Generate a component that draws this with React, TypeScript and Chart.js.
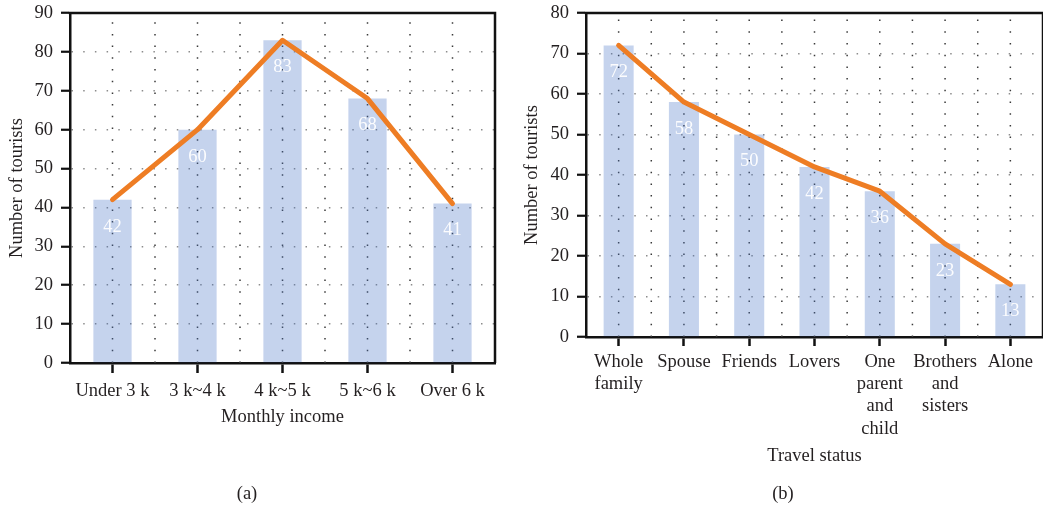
import React, { useEffect, useRef } from "react";
import { Chart, registerables } from "chart.js";

Chart.register(...registerables);

// ---- data ----
const incomeLabels: string[] = ["Under 3 k", "3 k~4 k", "4 k~5 k", "5 k~6 k", "Over 6 k"];
const incomeCounts: number[] = [42, 60, 83, 68, 41];
const incomeYMax = 90;

const travelLabels: string[][] = [
  ["Whole", "family"],
  ["Spouse"],
  ["Friends"],
  ["Lovers"],
  ["One", "parent", "and", "child"],
  ["Brothers", "and", "sisters"],
  ["Alone"],
];
const travelCounts: number[] = [72, 58, 50, 42, 36, 23, 13];
const travelYMax = 80;

const yStep = 10;
const yTitle = "Number of tourists";
const incomeXTitle = "Monthly income";
const travelXTitle = "Travel status";
const captions = ["(a)", "(b)"];

// ---- styles ----
const FONT = "'Liberation Serif', 'Times New Roman', serif";
const FS = 18.5;
const TEXT = "#231f20";
const AXIS = "#111111";
const BAR = "rgba(68,114,196,0.31)";
const LINE = "#ee7d24";

const vGridPlugin = {
  id: "vgrid",
  beforeDatasetsDraw(chart: any) {
    const x = chart.scales.x;
    const { top, bottom, left, right } = chart.chartArea;
    const n = x.ticks.length;
    if (n < 2) return;
    const half = (x.getPixelForValue(1) - x.getPixelForValue(0)) / 2;
    const ctx = chart.ctx;
    ctx.save();
    ctx.strokeStyle = "#3a3a3a";
    ctx.lineWidth = 1.5;
    ctx.setLineDash([1.5, 10.2]);
    const xs: number[] = [];
    for (let i = 0; i < n; i++) {
      const c = x.getPixelForValue(i);
      xs.push(c - half, c);
    }
    xs.push(x.getPixelForValue(n - 1) + half);
    for (const px of xs) {
      if (px <= left + 2 || px >= right - 2) continue;
      ctx.beginPath();
      ctx.moveTo(px, bottom);
      ctx.lineTo(px, top);
      ctx.stroke();
    }
    ctx.restore();
  },
};

const framePlugin = {
  id: "frame",
  afterDatasetsDraw(chart: any) {
    const { top, bottom, left, right } = chart.chartArea;
    const ctx = chart.ctx;
    ctx.save();
    ctx.strokeStyle = AXIS;
    ctx.lineWidth = 2.5;
    ctx.beginPath();
    ctx.moveTo(left - 1.25, top);
    ctx.lineTo(right, top);
    ctx.lineTo(right, bottom);
    ctx.stroke();
    ctx.restore();
  },
};

const valueLabelPlugin = {
  id: "valueLabels",
  afterDatasetsDraw(chart: any) {
    const meta = chart.getDatasetMeta(0);
    const data = chart.data.datasets[0].data;
    const ctx = chart.ctx;
    ctx.save();
    ctx.fillStyle = "rgba(255,255,255,0.95)";
    ctx.font = `${FS}px ${FONT}`;
    ctx.textAlign = "center";
    ctx.textBaseline = "middle";
    meta.data.forEach((el: any, i: number) => {
      ctx.fillText(String(data[i]), el.x, el.y + 27);
    });
    ctx.restore();
  },
};

type Geo = {
  width: number;
  height: number;
  padTop: number;
  padRight: number;
  yWidth: number;
  xHeight: number;
  yTitlePad: number;
  xTitlePad: number;
  xTickLen: number;
  xTickPad: number;
};

function ComboChart(props: {
  labels: any[];
  values: number[];
  yMax: number;
  xTitle: string;
  geo: Geo;
  barPct: number;
}) {
  const ref = useRef<HTMLCanvasElement | null>(null);
  useEffect(() => {
    if (!ref.current) return;
    const g = props.geo;
    const chart = new Chart(ref.current, {
      type: "bar",
      data: {
        labels: props.labels,
        datasets: [
          {
            type: "bar",
            data: props.values,
            backgroundColor: BAR,
            borderWidth: 0,
            categoryPercentage: 1,
            barPercentage: props.barPct,
            order: 2,
          } as any,
          {
            type: "line",
            data: props.values,
            borderColor: LINE,
            borderWidth: 5,
            pointRadius: 0,
            tension: 0,
            borderCapStyle: "round",
            borderJoinStyle: "round",
            order: 1,
          } as any,
        ],
      },
      options: {
        animation: false,
        responsive: false,
        devicePixelRatio: 1,
        layout: { padding: { top: g.padTop, right: g.padRight, left: 0, bottom: 0 } },
        plugins: { legend: { display: false }, tooltip: { enabled: false }, title: { display: false } },
        scales: {
          x: {
            type: "category",
            offset: true,
            grid: {
              offset: false,
              drawOnChartArea: false,
              drawTicks: true,
              tickLength: g.xTickLen,
              tickWidth: 2.5,
              tickColor: AXIS,
            },
            border: { display: true, color: AXIS, width: 2.5 },
            ticks: {
              color: TEXT,
              font: { family: FONT, size: FS, lineHeight: 1.2 },
              padding: g.xTickPad,
              maxRotation: 0,
              autoSkip: false,
            },
            title: {
              display: true,
              text: props.xTitle,
              color: TEXT,
              font: { family: FONT, size: FS, lineHeight: 1.2 },
              padding: { top: 0, bottom: g.xTitlePad },
            },
            afterFit: (s: any) => {
              s.height = g.xHeight;
              s.paddingLeft = 0;
              s.paddingRight = 0;
            },
          },
          y: {
            type: "linear",
            min: 0,
            max: props.yMax,
            grid: {
              color: "#8c8c8c",
              lineWidth: 1.5,
              drawTicks: true,
              tickLength: 9,
              tickWidth: 2.2,
              tickColor: AXIS,
              tickBorderDash: [],
            },
            border: { display: true, color: AXIS, width: 2.5, dash: [1.5, 10.2] },
            ticks: {
              stepSize: yStep,
              color: TEXT,
              font: { family: FONT, size: FS },
              padding: 8,
            },
            title: {
              display: true,
              text: yTitle,
              color: TEXT,
              font: { family: FONT, size: FS, lineHeight: 1.2 },
              padding: { top: g.yTitlePad, bottom: 0 },
            },
            afterFit: (s: any) => {
              s.width = g.yWidth;
              s.paddingTop = 0;
              s.paddingBottom = 0;
            },
          },
        },
      } as any,
      plugins: [vGridPlugin, valueLabelPlugin, framePlugin],
    });
    return () => chart.destroy();
  }, []);
  return (
    <canvas
      ref={ref}
      width={props.geo.width}
      height={props.geo.height}
      style={{ width: props.geo.width, height: props.geo.height, display: "block" }}
    />
  );
}

const leftGeo: Geo = {
  width: 520,
  height: 509,
  padTop: 13,
  padRight: 25,
  yWidth: 70,
  xHeight: 146,
  yTitlePad: 6,
  xTitlePad: 81,
  xTickLen: 10,
  xTickPad: 7,
};

const rightGeo: Geo = {
  width: 523,
  height: 509,
  padTop: 13,
  padRight: 0,
  yWidth: 66,
  xHeight: 172,
  yTitlePad: 1.5,
  xTitlePad: 42,
  xTickLen: 9,
  xTickPad: 5,
};

const captionStyle = (cx: number): React.CSSProperties => ({
  position: "absolute",
  left: cx - 50,
  top: 482,
  width: 100,
  textAlign: "center",
  fontFamily: FONT,
  fontSize: FS,
  lineHeight: "22px",
  color: TEXT,
});

export default function App() {
  return (
    <div
      style={{
        position: "fixed",
        left: 0,
        top: 0,
        width: 1043,
        height: 509,
        background: "#ffffff",
        overflow: "hidden",
      }}
    >
      <div style={{ position: "absolute", left: 0, top: 0 }}>
        <ComboChart
          labels={incomeLabels}
          values={incomeCounts}
          yMax={incomeYMax}
          xTitle={incomeXTitle}
          geo={leftGeo}
          barPct={0.45}
        />
      </div>
      <div style={{ position: "absolute", left: 520, top: 0 }}>
        <ComboChart
          labels={travelLabels}
          values={travelCounts}
          yMax={travelYMax}
          xTitle={travelXTitle}
          geo={rightGeo}
          barPct={0.46}
        />
      </div>
      <div style={captionStyle(247)}>{captions[0]}</div>
      <div style={captionStyle(783)}>{captions[1]}</div>
    </div>
  );
}
